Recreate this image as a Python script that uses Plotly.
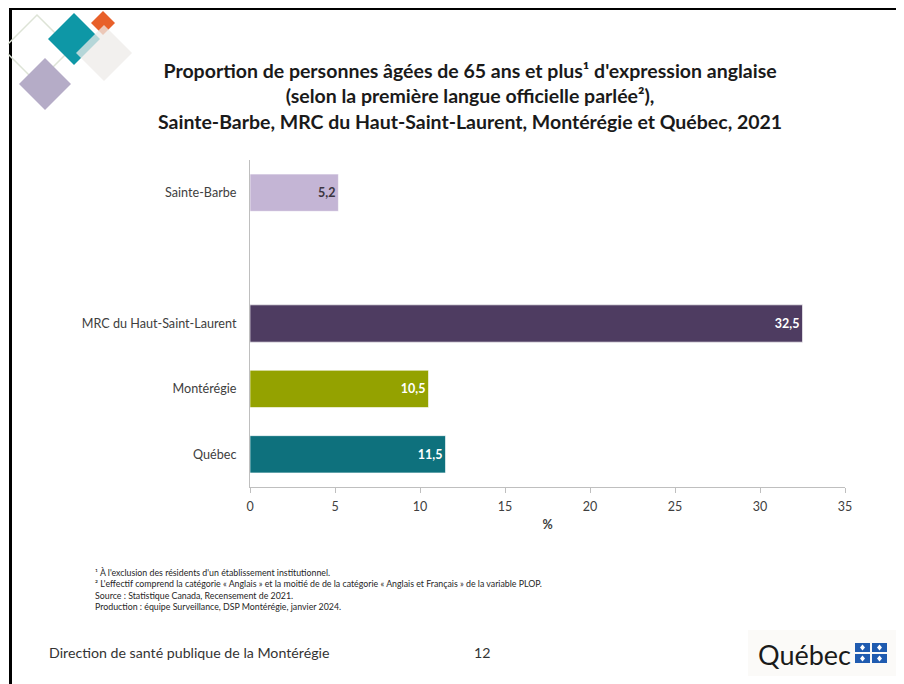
import plotly.graph_objects as go

# Data
categories = ["Sainte-Barbe", "MRC du Haut-Saint-Laurent", "Montérégie", "Québec"]
values = [5.2, 32.5, 10.5, 11.5]
bar_colors = ["#C4B5D5", "#4E3C61", "#94A200", "#0E717D"]
label_colors = ["#3b3440", "white", "white", "white"]
x_ticks = [0, 5, 10, 15, 20, 25, 30, 35]
# an empty row sits between Sainte-Barbe and the MRC
row_order = ["Sainte-Barbe", " ", "MRC du Haut-Saint-Laurent", "Montérégie", "Québec"]

# the page body has an 8px margin, so the figure is drawn 8px in from the window
OFF = 8
W, H = 904 - OFF, 684 - OFF
L, R, T, B = 250 - OFF, 904 - 845, 160 - OFF, 684 - 487
FONT = "Lato, Carlito, Calibri, sans-serif"

def px(x):
    return (x - OFF - L) / (W - L - R)

def py(y):
    return 1 - (y - OFF - T) / (H - T - B)

fig = go.Figure()
fig.add_trace(go.Bar(
    x=values, y=categories, orientation="h",
    marker=dict(color=bar_colors, line=dict(color="rgba(255,255,255,0.6)", width=1)),
    width=0.57,
    texttemplate="%{x:.1f}", textposition="inside", insidetextanchor="end",
    textfont=dict(color=label_colors, size=12.5, family=FONT, weight="bold"),
    cliponaxis=False, hoverinfo="skip",
))

fig.update_layout(
    width=W, height=H,
    margin=dict(l=L, r=R, t=T, b=B),
    paper_bgcolor="white", plot_bgcolor="white",
    separators=", ",
    showlegend=False,
    font=dict(family=FONT, color="#404040", size=12),
)
fig.update_xaxes(range=[0, 35], tickvals=x_ticks, showgrid=False, zeroline=False,
                 showline=True, linecolor="#BFBFBF", linewidth=1,
                 ticks="outside", tickcolor="#BFBFBF", ticklen=5, ticklabelstandoff=3,
                 tickfont=dict(size=12.5, color="#404040"),
                 title=dict(text="<b>%</b>", font=dict(size=12.5, color="#404040"), standoff=7))
fig.update_yaxes(type="category", categoryorder="array", categoryarray=row_order[::-1],
                 range=[-0.5, 4.5], showgrid=False, zeroline=False,
                 showline=True, linecolor="#BFBFBF", linewidth=1, ticks="",
                 ticklabelstandoff=10, tickfont=dict(size=12.6, color="#404040"))

# Title
fig.add_annotation(
    text="<b>Proportion de personnes âgées de 65 ans et plus¹ d'expression anglaise<br>"
         "(selon la première langue officielle parlée²),<br>"
         "Sainte-Barbe, MRC du Haut-Saint-Laurent, Montérégie et Québec, 2021</b>",
    xref="paper", yref="paper", x=px(470), y=py(57), xanchor="center", yanchor="top",
    showarrow=False, align="center",
    font=dict(size=19.5, color="#1a1a1a", family=FONT),
)

# Footnotes
notes = ("¹ À l'exclusion des résidents d'un établissement institutionnel.<br>"
         "² L'effectif comprend la catégorie « Anglais » et la moitié de de la catégorie "
         "« Anglais et Français » de la variable PLOP.<br>"
         "Source : Statistique Canada, Recensement de 2021.<br>"
         "Production : équipe Surveillance, DSP Montérégie, janvier 2024.")
fig.add_annotation(text=notes, xref="paper", yref="paper", x=px(93), y=py(565),
                   xanchor="left", yanchor="top", showarrow=False, align="left",
                   font=dict(size=8.8, color="#262626", family=FONT))

# Footer
fig.add_annotation(text="Direction de santé publique de la Montérégie", xref="paper", yref="paper",
                   x=px(47), y=py(652), xanchor="left", yanchor="middle", showarrow=False,
                   font=dict(size=14.2, color="#333333", family=FONT))
fig.add_annotation(text="12", xref="paper", yref="paper", x=px(482), y=py(652),
                   xanchor="center", yanchor="middle", showarrow=False,
                   font=dict(size=14.2, color="#333333", family=FONT))

shapes = []

# Slide border (top and left)
shapes.append(dict(type="line", xref="paper", yref="paper", x0=px(10.5), x1=px(910),
                   y0=py(8.5), y1=py(8.5), line=dict(color="black", width=3)))
shapes.append(dict(type="line", xref="paper", yref="paper", x0=px(10.5), x1=px(10.5),
                   y0=py(7.5), y1=py(690), line=dict(color="black", width=3)))

# Decorative diamonds (top-left)
def diamond(cx, cy, h, fill, line_color=None, lw=0, opacity=1.0):
    path = (f"M {px(cx)} {py(cy - h)} L {px(cx + h)} {py(cy)} "
            f"L {px(cx)} {py(cy + h)} L {px(cx - h)} {py(cy)} Z")
    return dict(type="path", xref="paper", yref="paper", path=path,
                fillcolor=fill, opacity=opacity,
                line=dict(color=line_color or "rgba(0,0,0,0)", width=lw))

shapes.append(diamond(37, 49, 34, "rgba(0,0,0,0)", "#DDE3D6", 1.5))
shapes.append(diamond(45, 84, 26, "#B5ACC7"))
shapes.append(diamond(74, 39, 26, "#0E97A6"))
shapes.append(diamond(103, 23, 12, "#E8602A"))
shapes.append(diamond(104, 53, 28, "#EEEBE8", opacity=0.75))

# Québec logo
shapes.append(dict(type="rect", xref="paper", yref="paper", x0=px(748), x1=px(900),
                   y0=py(630), y1=py(676), fillcolor="#FBFAF8", line=dict(width=0)))
for (x0, y0) in [(855, 643), (872, 643), (855, 654), (872, 654)]:
    shapes.append(dict(type="rect", xref="paper", yref="paper", x0=px(x0), x1=px(x0 + 15),
                       y0=py(y0), y1=py(y0 + 9), fillcolor="#1F5BB0", line=dict(width=0)))
    # small white fleur-de-lis stand-in
    shapes.append(dict(type="path", xref="paper", yref="paper",
                       path=(f"M {px(x0 + 7.5)} {py(y0 + 1.5)} L {px(x0 + 10)} {py(y0 + 4.5)} "
                             f"L {px(x0 + 7.5)} {py(y0 + 7.5)} L {px(x0 + 5)} {py(y0 + 4.5)} Z"),
                       fillcolor="white", line=dict(width=0)))
fig.add_annotation(text="Québec", xref="paper", yref="paper", x=px(756), y=py(654),
                   xanchor="left", yanchor="middle", showarrow=False,
                   font=dict(size=27, color="#1a1a1a", family="Lato, sans-serif"))

fig.update_layout(shapes=shapes)

fig.write_html("out.html")
